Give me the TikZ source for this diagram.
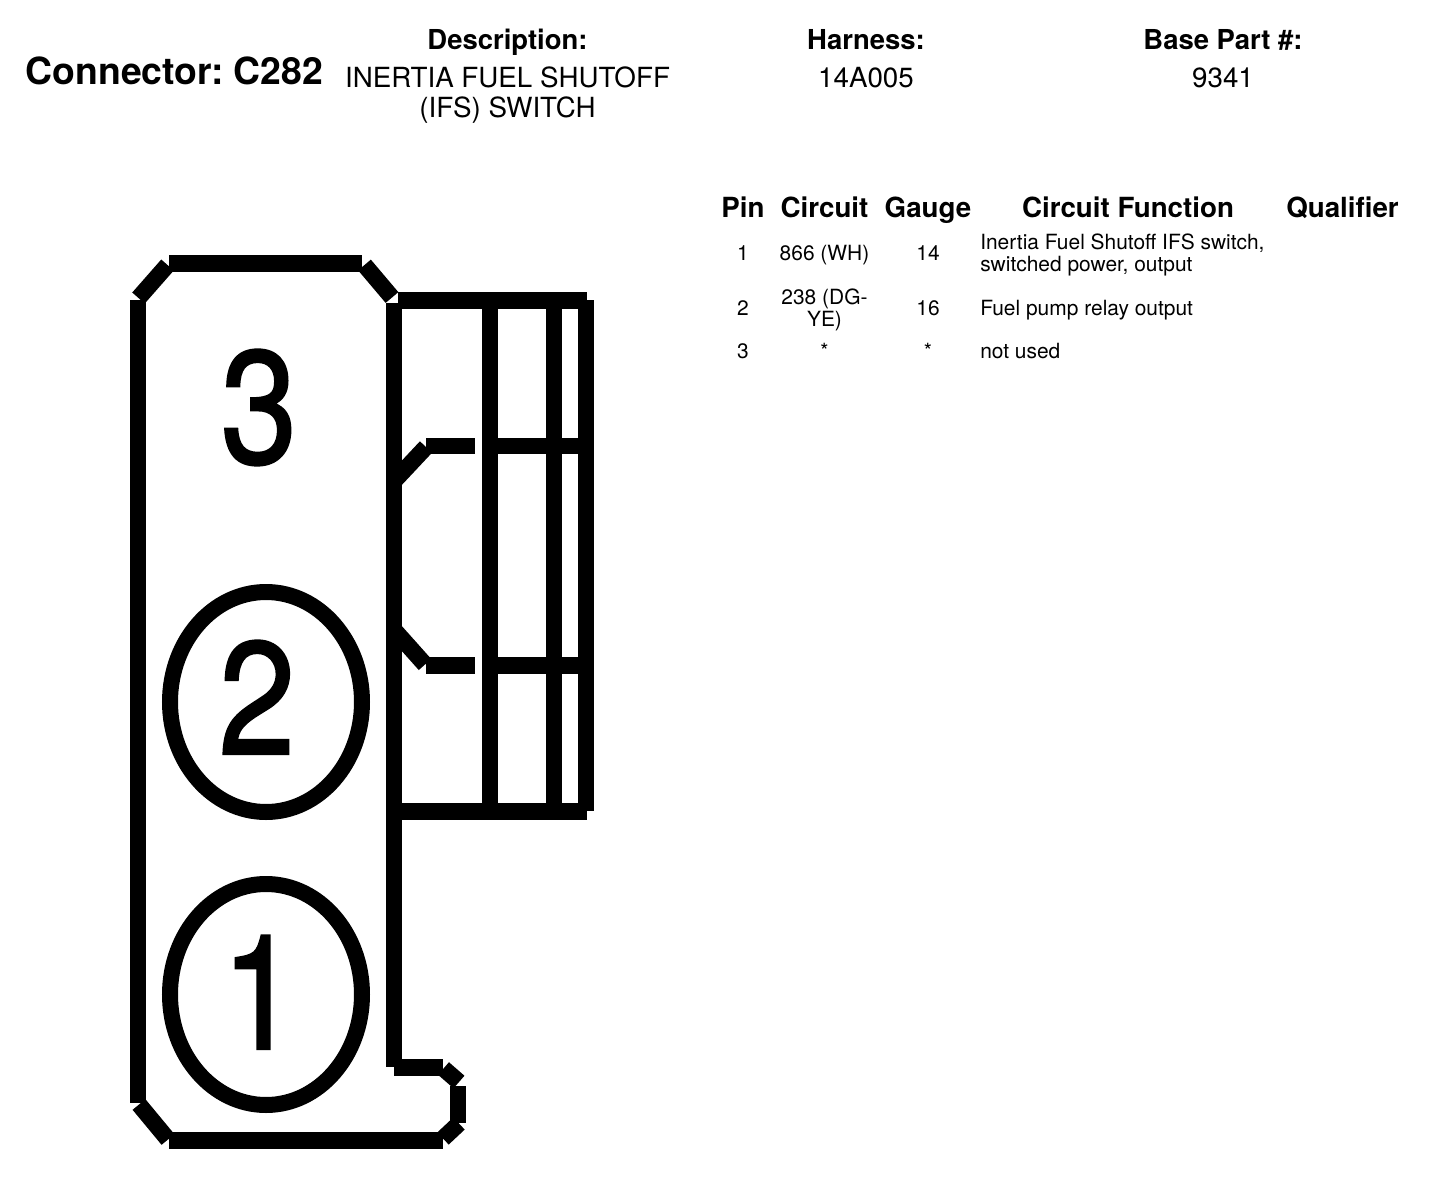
\documentclass[tikz,border=0pt]{standalone}
\usepackage{fontspec}
\usepackage{graphicx}
\setmainfont{TeX Gyre Heros}
\newfontfamily\digitfont[FakeBold=1.5]{TeX Gyre Heros}
\frenchspacing
\begin{document}
\begin{tikzpicture}[x=0.75pt,y=-0.75pt,
  thickbar/.style={line width=12.5pt,line cap=butt,black},
  heavybar/.style={line width=12pt,line cap=butt,black},
  oval/.style={draw=black,line width=12pt},
  hdr/.style={inner sep=0pt,anchor=base,font=\bfseries\fontsize{20.6}{24}\selectfont},
  sub/.style={inner sep=0pt,anchor=base,align=center,font=\fontsize{20.8}{22.5}\selectfont},
  colhead/.style={inner sep=0pt,anchor=base,font=\bfseries\fontsize{20.8}{24}\selectfont},
  cell/.style={inner sep=0pt,anchor=base,align=center,font=\fontsize{15.7}{16.5}\selectfont},
  celll/.style={inner sep=0pt,anchor=base west,align=left,font=\fontsize{15.7}{16.5}\selectfont},
  digit/.style={inner sep=0pt,anchor=base,font=\digitfont\fontsize{120}{120}\selectfont}]
\useasboundingbox (0,0) rectangle (1440,1178);
\fill[white] (0,0) rectangle (1440,1178);
% outline
\draw[thickbar] (169,263.5) -- (362,263.5);
\draw[thickbar] (138.5,298) -- (167.5,265);
\draw[thickbar] (364.5,265) -- (392,297.5);
\draw[heavybar] (137.5,300) -- (137.5,1103);
\draw[heavybar] (394,303) -- (394,1067);
\draw[thickbar] (398,300.5) -- (587,300.5);
\draw[heavybar] (490,300) -- (490,810);
\draw[heavybar] (554,300) -- (554,810);
\draw[heavybar] (586,300) -- (586,811);
\draw[thickbar] (390,811.5) -- (587,811.5);
\draw[thickbar] (426,446) -- (475,446);
\draw[thickbar] (498,446) -- (580,446);
\draw[thickbar] (426,665.5) -- (475,665.5);
\draw[thickbar] (498,665.5) -- (580,665.5);
\draw[thickbar] (396,479) -- (426,447);
\draw[thickbar] (396,632) -- (425,664.5);
\draw[thickbar] (139,1104.5) -- (168,1139.5);
\draw[thickbar] (169,1140.5) -- (443,1140.5);
\draw[thickbar] (394,1067.5) -- (443,1067.5);
\draw[thickbar] (443.5,1068.5) -- (459,1082);
\draw[heavybar] (458,1086) -- (458,1123);
\draw[thickbar] (443,1138.5) -- (459,1123.5);
\draw[oval] (266,702) ellipse [x radius=96,y radius=110];
\draw[oval] (266,994.5) ellipse [x radius=96,y radius=110.5];
\node[digit] (d3) at (259,463) {\scalebox{.86}[1]{3}};
\node[digit] (d2) at (257,754) {\scalebox{.86}[1]{2}};
\node[digit] (d1) at (260,1049) {\scalebox{.86}[1]{1}};
% title block
\node[inner sep=0pt,anchor=base,font=\bfseries\fontsize{28}{30}\selectfont] (conn) at (174.5,84) {Connector: C282};
\node[hdr] (hd) at (507.5,49) {Description:};
\node[hdr] (hh) at (866,49) {Harness:};
\node[hdr] (hb) at (1223,49) {Base Part \#:};
\node[sub] (sd) at (507.5,117) {INERTIA FUEL SHUTOFF\\(IFS) SWITCH};
\node[sub] (sh) at (866,87) {14A005};
\node[sub] (sb) at (1223,87) {9341};
% table
\node[colhead] (c1) at (743,217) {Pin};
\node[colhead] (c2) at (824.5,217) {Circuit};
\node[colhead] (c3) at (928,217) {Gauge};
\node[colhead] (c4) at (1128,217) {Circuit Function};
\node[colhead] (c5) at (1342.5,217) {Qualifier};
\node[cell] (p1) at (743,260) {1};
\node[cell] (k1) at (824.5,260) {866 (WH)};
\node[cell] (g1) at (928,260) {14};
\node[celll] (f1) at (980,271) {Inertia Fuel Shutoff IFS switch,\\switched power, output};
\node[cell] (p2) at (743,315) {2};
\node[cell] (k2) at (824.5,326.5) {238 (DG-\\YE)};
\node[cell] (g2) at (928,315) {16};
\node[celll] (f2) at (980,315) {Fuel pump relay output};
\node[cell] (p3) at (743,358.5) {3};
\node[cell] (k3) at (824.5,358.5) {*};
\node[cell] (g3) at (928,358.5) {*};
\node[celll] (f3) at (980,358.5) {not used};
\end{tikzpicture}
\end{document}
